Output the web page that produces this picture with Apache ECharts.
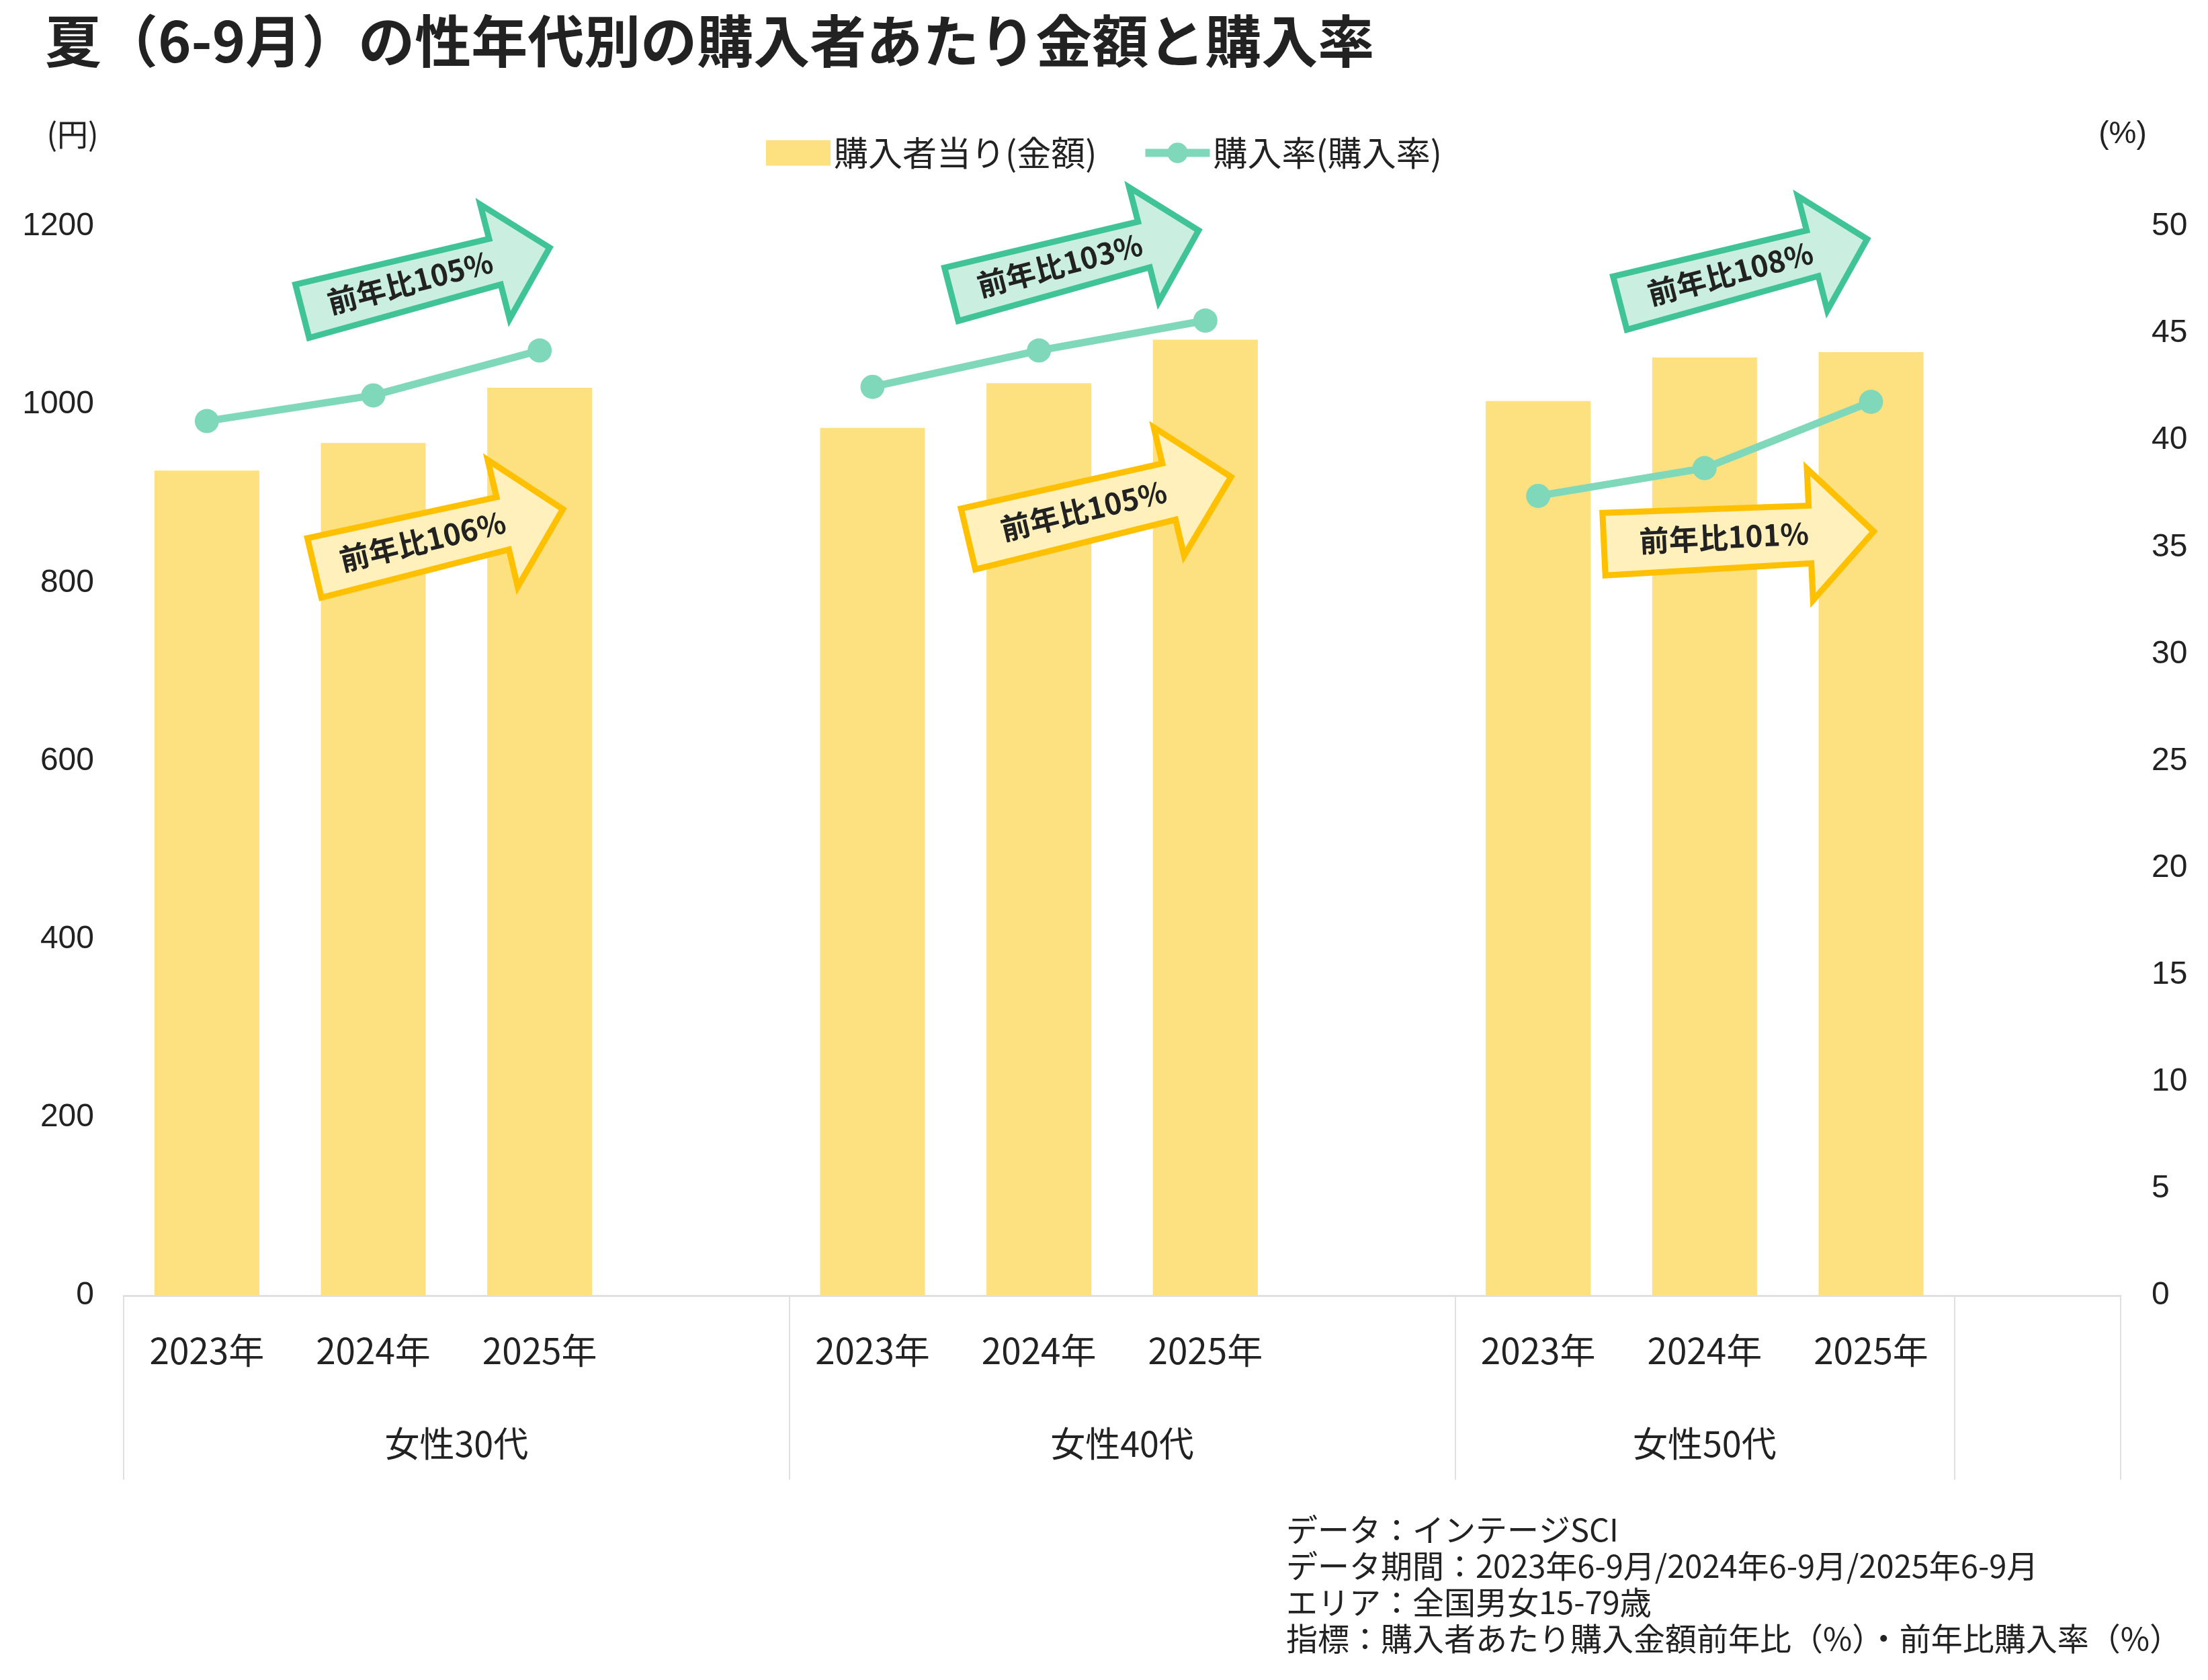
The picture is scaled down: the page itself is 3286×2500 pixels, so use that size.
<!DOCTYPE html>
<html>
<head>
<meta charset="utf-8">
<script src="https://cdn.jsdelivr.net/npm/echarts@6/dist/echarts.min.js"></script>
<style>html,body{margin:0;padding:0;background:#fff}#c{width:3286px;height:2500px}</style>
</head>
<body>
<div id="c"></div>
<script>
// ---- data ----
const titleText = '夏（6-9月）の性年代別の購入者あたり金額と購入率';
const groups = ['女性30代', '女性40代', '女性50代'];
const years = ['2023年', '2024年', '2025年'];
const spend30 = [926, 957, 1019];
const spend40 = [974, 1024, 1073];
const spend50 = [1004, 1053, 1059];
const rate30 = [40.9, 42.1, 44.2];
const rate40 = [42.5, 44.2, 45.6];
const rate50 = [37.4, 38.7, 41.8];
const spendYoY = ['前年比106%', '前年比105%', '前年比101%'];
const rateYoY = ['前年比105%', '前年比103%', '前年比108%'];
const seriesNames = ['購入者当り(金額)', '購入率(購入率)'];
const leftUnit = '(円)';
const rightUnit = '(%)';
const notes = [
  'データ：インテージSCI',
  'データ期間：2023年6-9月/2024年6-9月/2025年6-9月',
  'エリア：全国男女15-79歳',
  '指標：購入者あたり購入金額前年比（%）・前年比購入率（%）'
];

// ---- build category structure ----
const spendByGroup = [spend30, spend40, spend50];
const rateByGroup = [rate30, rate40, rate50];
const categories = [];
const barData = [];
const lineData = [];
const groupStart = [];
groups.forEach((g, gi) => {
  groupStart.push(categories.length);
  years.forEach((y, yi) => {
    categories.push(y);
    barData.push(spendByGroup[gi][yi]);
    lineData.push(rateByGroup[gi][yi]);
  });
  if (gi < groups.length - 1) { categories.push(''); barData.push(null); lineData.push(null); }
});
const lastGroupEnd = categories.length;
categories.push(''); barData.push(null); lineData.push(null);
const boundaries = groupStart.concat([lastGroupEnd]);
// second axis on half-slot boundaries for group labels
const groupAxis = new Array(categories.length * 2 + 1).fill('');
groups.forEach((g, gi) => {
  const s = boundaries[gi], e = boundaries[gi + 1];
  groupAxis[s + e] = g;
});

// ---- arrow annotations (layout only) ----
const GREEN = {fill: '#CAEFE1', stroke: '#40C497'};
const YELLOW = {fill: '#FFF0BC', stroke: '#FFC000'};
const shapeG = {tail: 41, neck: 35, base: 300, barb: 88, tip: 384};
const shapeY1 = {tail: 45.5, neck: 40, base: 292, barb: 97, tip: 384};
const shapeY2 = {tail: 46.5, neck: 43, base: 311, barb: 98, tip: 406};
const arrowLayout = [
  {label: rateYoY[0], style: GREEN, shape: shapeG, x: 446, y: 464, deg: 14.4, tx: 170},
  {label: spendYoY[0], style: YELLOW, shape: shapeY1, x: 464, y: 846, deg: 13.3, tx: 170},
  {label: rateYoY[1], style: GREEN, shape: shapeG, x: 1412, y: 439, deg: 14.5, tx: 171},
  {label: spendYoY[1], style: YELLOW, shape: shapeY2, x: 1437, y: 803, deg: 13.3, tx: 181},
  {label: rateYoY[2], style: GREEN, shape: shapeG, x: 2407, y: 452, deg: 14.5, tx: 174},
  {label: spendYoY[2], style: YELLOW, shape: shapeY2, x: 2383, y: 810, deg: 2.7, tx: 183}
];
function arrowGroup(a) {
  const s = a.shape;
  const pts = [[4, -s.tail], [s.base, -s.neck], [s.base, -s.barb], [s.tip, 0], [s.base, s.barb], [s.base, s.neck], [4, s.tail]];
  return {
    type: 'group', x: a.x, y: a.y, rotation: a.deg * Math.PI / 180, z: 100,
    children: [
      {type: 'polygon', shape: {points: pts}, z: 100,
       style: {fill: a.style.fill, stroke: a.style.stroke, lineWidth: 9, lineJoin: 'miter'}},
      {type: 'text', x: a.tx, y: -2, z: 101,
       style: {text: a.label, fontSize: 44, fontWeight: 'bold', fill: '#222', align: 'center',
               verticalAlign: 'middle', fontFamily: 'Noto Sans CJK JP'}}
    ]
  };
}

const FONT = 'Noto Sans CJK JP';
const chart = echarts.init(document.getElementById('c'), null, {renderer: 'canvas'});
const option = {
  backgroundColor: '#fff',
  animation: false,
  textStyle: {fontFamily: FONT, color: '#222'},
  title: {
    text: titleText, left: 62, top: 14,
    textStyle: {fontSize: 84, fontWeight: 'bold', color: '#222', fontFamily: FONT}
  },
  legend: {
    left: 'center', top: 197, itemWidth: 96, itemHeight: 38, itemGap: 66,
    textStyle: {fontSize: 51, color: '#222', fontFamily: FONT},
    data: [
      {name: seriesNames[0], icon: 'rect'},
      {name: seriesNames[1], lineStyle: {width: 12}}
    ]
  },
  grid: {left: 184, right: 130, top: 337, bottom: 572, containLabel: false},
  xAxis: [
    {
      type: 'category', data: categories, position: 'bottom',
      axisLine: {show: true, lineStyle: {color: '#E0E0E0', width: 3}},
      axisTick: {show: true, alignWithLabel: false, length: 274,
                 interval: (idx) => boundaries.indexOf(idx) >= 0,
                 lineStyle: {color: '#E0E0E0', width: 2}},
      axisLabel: {interval: 0, fontSize: 53, color: '#222', margin: 55, fontFamily: FONT},
      splitLine: {show: false}
    },
    {
      type: 'category', data: groupAxis, position: 'bottom', boundaryGap: false,
      axisLine: {show: false}, axisTick: {show: false}, splitLine: {show: false},
      axisLabel: {interval: 0, fontSize: 52, color: '#222', margin: 194, fontFamily: FONT}
    }
  ],
  yAxis: [
    {
      type: 'value', min: 0, max: 1200, interval: 200, position: 'left',
      axisLine: {show: false}, axisTick: {show: false}, splitLine: {show: false},
      axisLabel: {fontSize: 48, color: '#222', margin: 44, fontFamily: 'Liberation Sans',
                  formatter: (v) => String(v)}
    },
    {
      type: 'value', min: 0, max: 50, interval: 5, position: 'right',
      axisLine: {show: false}, axisTick: {show: false}, splitLine: {show: false},
      axisLabel: {fontSize: 48, color: '#222', margin: 46, fontFamily: 'Liberation Sans',
                  formatter: (v) => String(v)}
    }
  ],
  series: [
    {
      name: seriesNames[0], type: 'bar', xAxisIndex: 0, yAxisIndex: 0,
      data: barData, barWidth: '63%', itemStyle: {color: '#FDE07F'}
    },
    {
      name: seriesNames[1], type: 'line', xAxisIndex: 0, yAxisIndex: 1,
      data: lineData, symbol: 'circle', symbolSize: 36, connectNulls: false,
      lineStyle: {width: 11, color: '#80D8BB'}, itemStyle: {color: '#80D8BB'}, z: 5
    }
  ],
  graphic: [
    {type: 'text', x: 108, y: 200, style: {text: leftUnit, fontSize: 46, fill: '#222', align: 'center', verticalAlign: 'middle', fontFamily: FONT}},
    {type: 'text', x: 3159, y: 200, style: {text: rightUnit, fontSize: 46, fill: '#222', align: 'center', verticalAlign: 'middle', fontFamily: 'Liberation Sans'}},
    {type: 'text', x: 1914, y: 2249, style: {text: notes.join('\n'), fontSize: 47, lineHeight: 54, fill: '#222', align: 'left', verticalAlign: 'top', fontFamily: FONT}}
  ].concat(arrowLayout.map(arrowGroup))
};
chart.setOption(option);
</script>
</body>
</html>
